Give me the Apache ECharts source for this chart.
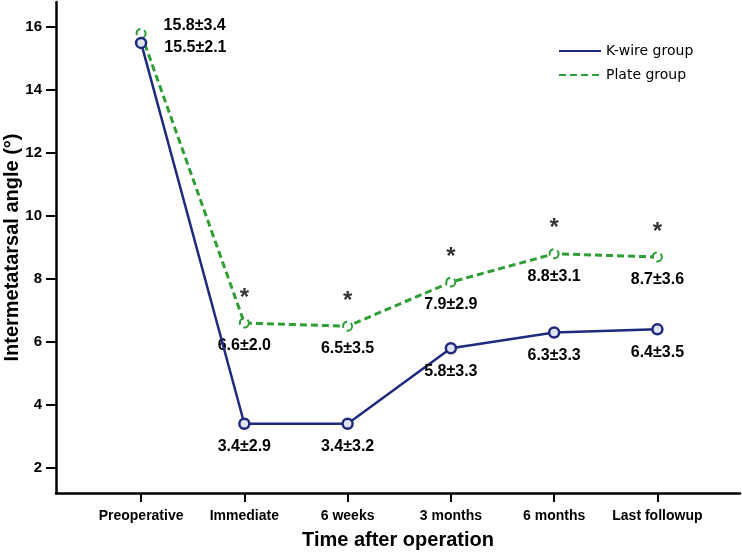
<!DOCTYPE html>
<html>
<head>
<meta charset="utf-8">
<script src="https://cdn.jsdelivr.net/npm/echarts@6/dist/echarts.min.js"></script>
<style>
html,body{margin:0;padding:0;background:#fff;}
#chart{width:742px;height:553px;}
</style>
</head>
<body>
<div id="chart"></div>
<script>
// ---- data ----
var categories = ['Preoperative', 'Immediate', '6 weeks', '3 months', '6 months', 'Last followup'];
var kwireMean = [15.5, 3.4, 3.4, 5.8, 6.3, 6.4];
var kwireSD   = [2.1, 2.9, 3.2, 3.3, 3.3, 3.5];
var plateMean = [15.8, 6.6, 6.5, 7.9, 8.8, 8.7];
var plateSD   = [3.4, 2.0, 3.5, 2.9, 3.1, 3.6];
var significant = [false, true, true, true, true, true];
var yTicks = [2, 4, 6, 8, 10, 12, 14, 16];
var catIndex = categories.map(function (c, i) { return i; });

var NAVY = '#1f2a7c';
var GREEN = '#2f9e36';
var FONT = 'Liberation Sans, Arial, sans-serif';

function fmt(v) { return v.toFixed(1); }

function buildData(means, sds, rightOffsetY) {
  return means.map(function (m, i) {
    var item = { value: [i, m], sd: sds[i] };
    if (i === 0) {
      item.label = { position: 'right', distance: 17, offset: [0, rightOffsetY] };
    }
    return item;
  });
}

var labelBase = {
  show: true,
  position: 'bottom',
  distance: 9,
  color: '#000',
  fontFamily: FONT,
  fontWeight: 'bold',
  fontSize: 16,
  formatter: function (p) { return fmt(p.data.value[1]) + '\u00b1' + fmt(p.data.sd); }
};

var chart = echarts.init(document.getElementById('chart'), null, { renderer: 'canvas' });
chart.setOption({
  animation: false,
  backgroundColor: '#fff',
  grid: { left: 56, right: 2, top: 2, bottom: 60, containLabel: false, outerBoundsMode: 'none' },
  legend: {
    orient: 'vertical',
    left: 553,
    top: 39,
    itemWidth: 42,
    itemHeight: 14,
    itemGap: 10,
    textStyle: { fontFamily: 'DejaVu Sans, sans-serif', fontSize: 14, color: '#000' },
    itemStyle: { opacity: 0 },
    data: ['K-wire group', 'Plate group']
  },
  xAxis: {
    type: 'value',
    min: -0.824,
    max: 5.8,
    name: 'Time after operation',
    nameLocation: 'middle',
    nameGap: 37,
    nameMoveOverlap: false,
    nameTextStyle: { fontFamily: FONT, fontWeight: 'bold', fontSize: 20, color: '#000' },
    splitLine: { show: false },
    axisLine: { show: true, onZero: false, lineStyle: { color: '#000', width: 2.5 } },
    axisTick: { show: true, inside: false, length: 9, customValues: catIndex, lineStyle: { color: '#000', width: 2 } },
    axisLabel: {
      customValues: catIndex,
      inside: false,
      margin: 16,
      color: '#000',
      fontFamily: FONT,
      fontWeight: 'bold',
      fontSize: 14,
      formatter: function (v) { return categories[Math.round(v)] || ''; }
    }
  },
  yAxis: {
    type: 'value',
    min: 1.2,
    max: 16.8,
    name: 'Intermetatarsal angle (\u00b0)',
    nameLocation: 'middle',
    nameRotate: 90,
    nameGap: 34,
    nameMoveOverlap: false,
    nameTextStyle: { fontFamily: FONT, fontWeight: 'bold', fontSize: 20, color: '#000' },
    splitLine: { show: false },
    axisLine: { show: true, onZero: false, lineStyle: { color: '#000', width: 2.5 } },
    axisTick: { show: true, inside: false, length: 10, customValues: yTicks, lineStyle: { color: '#000', width: 2 } },
    axisLabel: {
      customValues: yTicks,
      inside: false,
      margin: 14,
      color: '#000',
      fontFamily: FONT,
      fontWeight: 'bold',
      fontSize: 15
    }
  },
  series: [
    {
      name: 'Plate group',
      type: 'line',
      data: buildData(plateMean, plateSD, -8),
      symbol: 'emptyCircle',
      symbolSize: 9,
      lineStyle: { color: GREEN, width: 3, type: [7, 4] },
      itemStyle: { color: GREEN, borderColor: GREEN, borderWidth: 2, borderType: 'dashed' },
      label: labelBase,
      z: 2
    },
    {
      name: 'K-wire group',
      type: 'line',
      data: buildData(kwireMean, kwireSD, 5),
      symbol: 'circle',
      symbolSize: 10,
      lineStyle: { color: NAVY, width: 2.5 },
      itemStyle: { color: '#dfe4f5', borderColor: NAVY, borderWidth: 2.5 },
      label: labelBase,
      z: 3
    },
    {
      name: 'sig',
      type: 'scatter',
      data: plateMean.map(function (m, i) { return significant[i] ? [i, m] : null; }).filter(function (d) { return d; }),
      symbol: 'circle',
      symbolSize: 10,
      silent: true,
      itemStyle: { color: 'transparent' },
      label: {
        show: true,
        position: 'top',
        distance: 8,
        formatter: '*',
        color: '#000',
        fontFamily: FONT,
        fontWeight: 'bold',
        fontSize: 24,
        lineHeight: 24
      },
      z: 4
    }
  ]
});
</script>
</body>
</html>
